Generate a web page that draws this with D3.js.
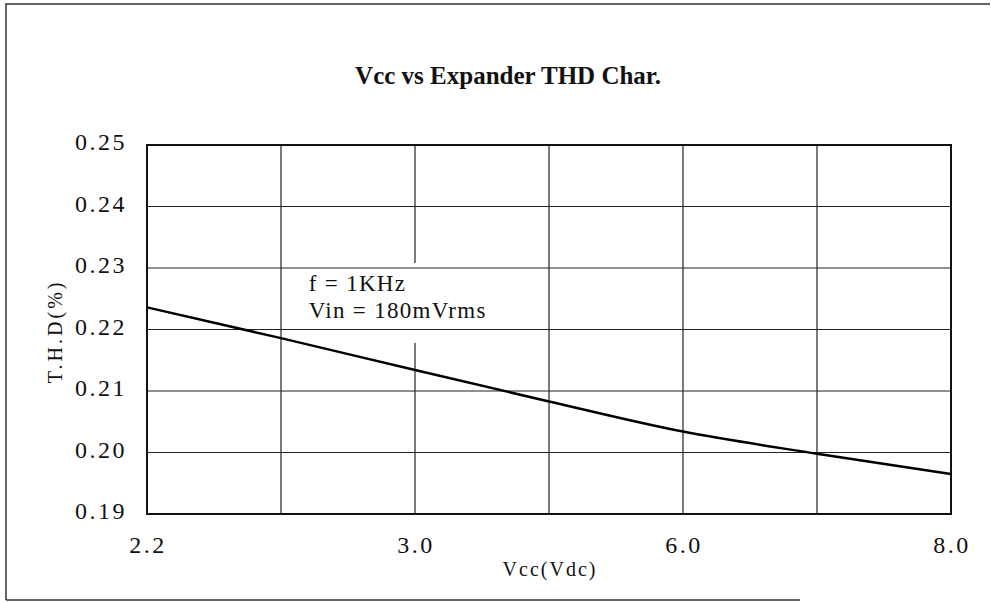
<!DOCTYPE html>
<html>
<head>
<meta charset="utf-8">
<script src="https://cdn.jsdelivr.net/npm/d3@7"></script>
<style>
  body { margin: 0; background: #fff; }
  svg { display: block; }
  text { fill: #111; font-family: "Liberation Serif", "DejaVu Serif", serif; }
</style>
</head>
<body>
<svg id="chart" width="991" height="602"></svg>
<script>
// grid columns along the Vcc axis (labels only on every other line)
var gridIndex = [0, 1, 2, 3, 4, 5, 6];
var xTickLabels = ['2.2', '', '3.0', '', '6.0', '', '8.0'];

// T.H.D (%) read at each grid column
var thdValues = [0.2236, 0.2186, 0.2134, 0.2083, 0.2034, 0.1998, 0.1965];

var yTicks = [0.19, 0.20, 0.21, 0.22, 0.23, 0.24, 0.25];

var title = 'Vcc vs Expander THD Char.';
var xLabel = 'Vcc(Vdc)';
var yLabel = 'T.H.D(%)';
var noteLines = ['f = 1KHz', 'Vin = 180mVrms'];

var margin = {top: 145, right: 40, bottom: 88, left: 147};
var width = 991 - margin.left - margin.right;
var height = 602 - margin.top - margin.bottom;

var svg = d3.select('#chart');

// outer frame (left, top, bottom pieces like the scan)
svg.append('path')
  .attr('d', 'M6,600 L6,4 L990,4 M6,600 L800,600')
  .attr('fill', 'none')
  .attr('stroke', '#333')
  .attr('stroke-width', 1.5);

svg.append('text')
  .attr('x', 508)
  .attr('y', 84)
  .attr('text-anchor', 'middle')
  .style('font-size', '25px')
  .style('font-weight', 'bold')
  .text(title);

var g = svg.append('g')
  .attr('transform', 'translate(' + margin.left + ',' + margin.top + ')');

var x = d3.scaleLinear().domain([0, 6]).range([0, width]);
var y = d3.scaleLinear().domain([0.19, 0.25]).range([height, 0]);

// vertical grid, the 3.0 line is broken where the note sits
var gapTop = y(0.2308), gapBottom = y(0.2178);
gridIndex.forEach(function(i) {
  if (i === 2) {
    g.append('line').attr('x1', x(i)).attr('x2', x(i)).attr('y1', 0).attr('y2', gapTop)
      .attr('stroke', '#222').attr('stroke-width', 1.2);
    g.append('line').attr('x1', x(i)).attr('x2', x(i)).attr('y1', gapBottom).attr('y2', height)
      .attr('stroke', '#222').attr('stroke-width', 1.2);
  } else {
    g.append('line').attr('x1', x(i)).attr('x2', x(i)).attr('y1', 0).attr('y2', height)
      .attr('stroke', '#222').attr('stroke-width', 1.2);
  }
});

// horizontal grid
g.selectAll('line.hgrid')
  .data(yTicks)
  .enter().append('line')
  .attr('class', 'hgrid')
  .attr('x1', 0)
  .attr('x2', width)
  .attr('y1', function(d) { return y(d); })
  .attr('y2', function(d) { return y(d); })
  .attr('stroke', '#222')
  .attr('stroke-width', 1.2);

// frame
g.append('rect')
  .attr('width', width)
  .attr('height', height)
  .attr('fill', 'none')
  .attr('stroke', '#111')
  .attr('stroke-width', 2);

// y tick labels
g.selectAll('text.ytick')
  .data(yTicks)
  .enter().append('text')
  .attr('class', 'ytick')
  .attr('x', -20)
  .attr('y', function(d) { return y(d) + 5; })
  .attr('text-anchor', 'end')
  .style('font-size', '24px')
  .style('letter-spacing', '2.5px')
  .text(function(d) { return d.toFixed(2); });

// x tick labels
g.selectAll('text.xtick')
  .data(gridIndex.filter(function(i) { return xTickLabels[i] !== ''; }))
  .enter().append('text')
  .attr('class', 'xtick')
  .attr('x', function(i) { return x(i) + 1; })
  .attr('y', height + 39)
  .attr('text-anchor', 'middle')
  .style('font-size', '24px')
  .style('letter-spacing', '2.5px')
  .text(function(i) { return xTickLabels[i]; });

// axis titles
g.append('text')
  .attr('x', x(3) + 1)
  .attr('y', height + 62)
  .attr('text-anchor', 'middle')
  .style('font-size', '20px')
  .style('letter-spacing', '2px')
  .text(xLabel);

g.append('text')
  .attr('transform', 'translate(' + (-85) + ',' + y(0.2197) + ') rotate(-90)')
  .attr('text-anchor', 'middle')
  .style('font-size', '20px')
  .style('letter-spacing', '3px')
  .text(yLabel);

// note
g.selectAll('text.note')
  .data(noteLines)
  .enter().append('text')
  .attr('class', 'note')
  .attr('x', x(1.2) + 1)
  .attr('y', function(d, i) { return y(0.2263) + i * 27; })
  .attr('xml:space', 'preserve')
  .style('font-size', '23px')
  .style('letter-spacing', '1.3px')
  .text(function(d) { return d; });

// THD curve
var line = d3.line()
  .x(function(d, i) { return x(gridIndex[i]); })
  .y(function(d) { return y(d); })
  .curve(d3.curveMonotoneX);

g.append('path')
  .datum(thdValues)
  .attr('fill', 'none')
  .attr('stroke', '#000')
  .attr('stroke-width', 2.5)
  .attr('d', line);
</script>
</body>
</html>
